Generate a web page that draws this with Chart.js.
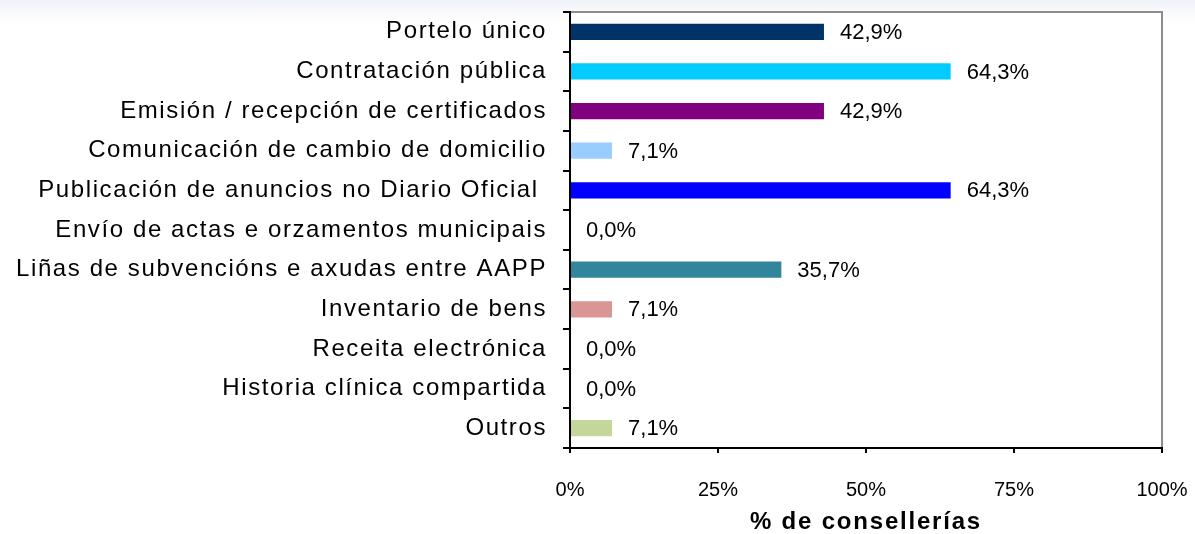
<!DOCTYPE html>
<html>
<head>
<meta charset="utf-8">
<script src="https://cdn.jsdelivr.net/npm/chart.js@4/dist/chart.umd.min.js"></script>
<style>
  html, body { margin: 0; padding: 0; }
  body { background: linear-gradient(#eef2f6 0px, #f9fafc 12px, #ffffff 24px); }
  .wrap { position: relative; width: 1195px; height: 534px; }
</style>
</head>
<body>
<div class="wrap"><canvas id="chart"></canvas></div>
<script>
'use strict';

// categorías (de arriba a abajo)
var categories = [
  'Portelo único',
  'Contratación pública',
  'Emisión / recepción de certificados',
  'Comunicación de cambio de domicilio',
  'Publicación de anuncios no Diario Oficial ',
  'Envío de actas e orzamentos municipais',
  'Liñas de subvencións e axudas entre AAPP',
  'Inventario de bens',
  'Receita electrónica',
  'Historia clínica compartida',
  'Outros'
];
// % de consellerías
var values = [42.9, 64.3, 42.9, 7.1, 64.3, 0.0, 35.7, 7.1, 0.0, 0.0, 7.1];
var barColors = ['#003366', '#00ccff', '#800080', '#99ccff', '#0000ff', '#808080',
                 '#31869b', '#da9694', '#808080', '#808080', '#c4d79b'];
var xTicks = [0, 25, 50, 75, 100];
var xTitle = '% de consellerías';

// espaciado de letras por escala
function withSpacing(fn, sp) {
  return function(a) {
    var c = this.ctx;
    var prev = c.letterSpacing;
    c.letterSpacing = sp;
    fn.call(this, a);
    c.letterSpacing = prev;
  };
}

var spacingPlugin = {
  id: 'spacing',
  afterUpdate: function(chart) {
    var y = chart.scales.y, x = chart.scales.x;
    if (!y._sp) {
      y.drawLabels = withSpacing(y.drawLabels, '1.6px');
      y._sp = true;
    }
    if (!x._sp) {
      x.drawTitle = withSpacing(x.drawTitle, '1.8px');
      x._sp = true;
    }
  }
};

// fondo blanco y marco gris del área
var framePlugin = {
  id: 'frame',
  beforeDraw: function(chart) {
    var a = chart.chartArea, c = chart.ctx;
    c.save();
    c.fillStyle = '#ffffff';
    c.fillRect(a.left, a.top, a.right - a.left, a.bottom - a.top);
    c.strokeStyle = '#8c8c8c';
    c.lineWidth = 2;
    c.beginPath();
    c.moveTo(a.left, a.top);
    c.lineTo(a.right, a.top);
    c.lineTo(a.right, a.bottom);
    c.stroke();
    c.restore();
  }
};

// etiquetas de valor
var labelPlugin = {
  id: 'valueLabels',
  afterDatasetsDraw: function(chart) {
    var c = chart.ctx;
    var meta = chart.getDatasetMeta(0);
    c.save();
    c.font = '22px Arial, "Liberation Sans", sans-serif';
    c.fillStyle = '#000';
    c.textAlign = 'left';
    c.textBaseline = 'middle';
    meta.data.forEach(function(bar, i) {
      var txt = values[i].toFixed(1).replace('.', ',') + '%';
      c.fillText(txt, bar.x + 16, bar.y + 1);
    });
    c.restore();
  }
};

var ctx = document.getElementById('chart');
var myChart = new Chart(ctx, {
  type: 'bar',
  data: {
    labels: categories,
    datasets: [{
      data: values,
      backgroundColor: barColors,
      borderWidth: 0,
      categoryPercentage: 1,
      barPercentage: 0.41
    }]
  },
  options: {
    indexAxis: 'y',
    responsive: true,
    maintainAspectRatio: false,
    animation: false,
    layout: { padding: { top: 12, right: 33, bottom: 0, left: 0 } },
    plugins: {
      legend: { display: false },
      tooltip: { enabled: false }
    },
    scales: {
      y: {
        afterFit: function(s) {
          s.width = 570;
          s.paddingTop = 0;
          s.paddingBottom = 0;
        },
        border: { color: '#000', width: 2 },
        grid: {
          offset: true,
          drawOnChartArea: false,
          drawTicks: true,
          tickLength: 7,
          color: '#000',
          lineWidth: 2
        },
        ticks: {
          padding: 16,
          color: '#000',
          font: { family: 'Arial, "Liberation Sans", sans-serif', size: 24 }
        }
      },
      x: {
        min: 0,
        max: 100,
        afterFit: function(s) {
          s.height = 86;
          s.paddingLeft = 0;
          s.paddingRight = 0;
        },
        afterBuildTicks: function(s) {
          s.ticks = xTicks.map(function(v) { return { value: v }; });
        },
        border: { color: '#000', width: 2 },
        grid: {
          drawOnChartArea: false,
          drawTicks: true,
          tickLength: 5,
          color: '#000',
          lineWidth: 2
        },
        ticks: {
          padding: 25,
          color: '#000',
          maxRotation: 0,
          font: { family: 'Arial, "Liberation Sans", sans-serif', size: 20 },
          callback: function(v) { return v + '%'; }
        },
        title: {
          display: true,
          text: xTitle,
          color: '#000',
          padding: { top: 0, bottom: 0 },
          font: { family: 'Arial, "Liberation Sans", sans-serif', size: 24, weight: 'bold', lineHeight: 1 }
        }
      }
    }
  },
  plugins: [spacingPlugin, framePlugin, labelPlugin]
});
</script>
</body>
</html>
